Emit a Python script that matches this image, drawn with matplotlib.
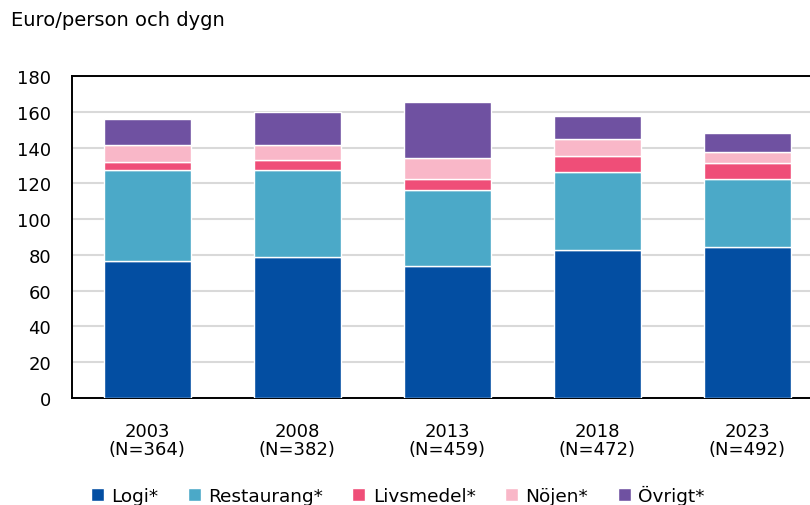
import matplotlib.pyplot as plt
import numpy as np

years = ['2003\n(N=364)', '2008\n(N=382)', '2013\n(N=459)', '2018\n(N=472)', '2023\n(N=492)']
logi = [76.4, 78.6, 73.6, 82.5, 84.2]
restaurang = [50.8, 48.6, 42.4, 43.6, 38.5]
livsmedel = [5.0, 6.1, 6.2, 9.3, 8.4]
nojen = [9.5, 8.4, 11.7, 9.3, 6.5]
ovrigt = [14.5, 18.3, 31.6, 13.0, 10.6]
labels = ['Logi*', 'Restaurang*', 'Livsmedel*', 'Nöjen*', 'Övrigt*']
colors = ['#034ea2', '#4ba9c8', '#ef4e78', '#f9b7c8', '#6f51a1']

plt.rcParams['font.family'] = ['DejaVu Sans']

fig = plt.figure(figsize=(8.1, 5.06), dpi=100)
ax = fig.add_axes([72 / 810, 107 / 506, 750 / 810, 322 / 506])

x = np.arange(len(years))
bottom = np.zeros(len(years))
for vals, lab, col in zip([logi, restaurang, livsmedel, nojen, ovrigt], labels, colors):
    ax.bar(x, vals, 0.58, bottom=bottom, color=col, label=lab,
           edgecolor='white', linewidth=1, zorder=3)
    bottom += np.array(vals)

ax.set_xlim(-0.5, 4.5)
ax.set_ylim(0, 180)
ax.set_yticks(range(0, 181, 20))
ax.set_xticks(x)
ax.set_xticklabels(years, fontsize=13, linespacing=1.05)
ax.tick_params(axis='y', length=0, pad=15, labelsize=13)
ax.tick_params(axis='x', length=0, pad=17)
ax.yaxis.grid(True, color='#d9d9d9', linewidth=1.5, zorder=0)
for s in ax.spines.values():
    s.set_color('black')
    s.set_linewidth(1.4)

fig.text(11 / 810, 1 - 20 / 506, 'Euro/person och dygn', fontsize=14, va='center', ha='left')

fig.legend(loc='center', bbox_to_anchor=(0.491, 0.019), ncol=5, frameon=False,
           fontsize=13.3, handlelength=0.7, handleheight=0.7, handletextpad=0.4,
           columnspacing=1.6, borderpad=0)

fig.savefig('out.png', dpi=100)
